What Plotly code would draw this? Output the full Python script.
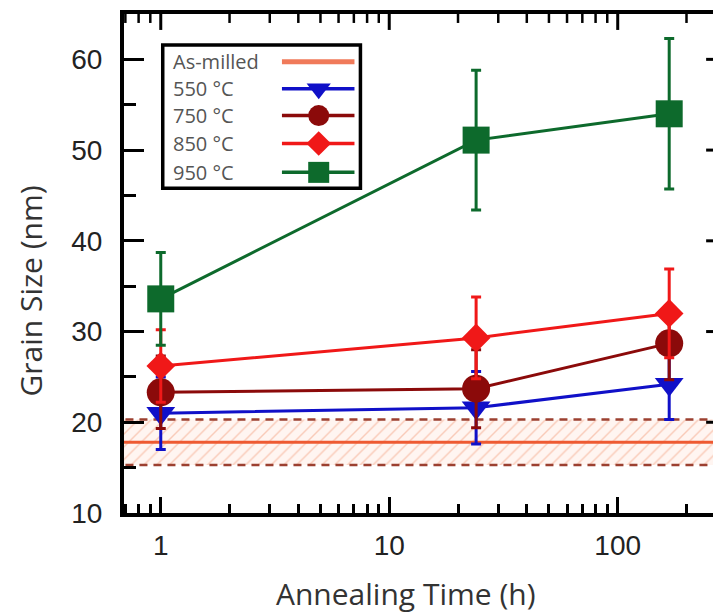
import math
import plotly.graph_objects as go

# ---------------- data ----------------
time_h = [1, 24, 168]
g550 = [21.0, 21.6, 24.2]
e550 = [4.0, 4.0, 3.9]
g750 = [23.3, 23.7, 28.7]
e750 = [4.0, 4.3, 4.0]
g850 = [26.2, 29.3, 32.0]
e850 = [4.0, 4.5, 4.9]
g950 = [33.6, 51.1, 54.0]
e950 = [5.1, 7.7, 8.3]
as_milled = 17.8
as_milled_sd = 2.5

series_names = ["550 °C", "750 °C", "850 °C", "950 °C"]
colors = ["#1010c8", "#8b0a0a", "#f01818", "#0d6a2c"]
symbols = ["triangle-down", "circle", "diamond", "square"]
msizes = [25, 28, 22, 27]
leg_msizes = [21, 21, 19, 21]

x_major = [1, 10, 100]
x_minor = [0.7, 0.8, 0.9] + list(range(2, 10)) + [10 * k for k in range(2, 10)] + [200]
y_major = [10, 20, 30, 40, 50, 60]
y_minor = [15, 25, 35, 45, 55]

# ---------------- layout (screen pixels; page body has an 8px margin) ----------------
OFF = 8
W, H = 724, 616
ax_left, ax_right, ax_top, ax_bottom = 124, 730, 12, 513   # screen px of the axes box
L = ax_left - OFF
T = ax_top - OFF
R = W - (ax_right - OFF)
B = H - (ax_bottom - OFF)
px_one = 161.0      # screen px of t = 1 h
px_dec = 230.0      # px per decade
x_lo = (ax_left - px_one) / px_dec
x_hi = (ax_right - px_one) / px_dec
y_rng = [10, 65]
MAJ_X, MIN_X, MAJ_Y, MIN_Y = 16, 9, 20, 12


def paper_x(sx):
    return (sx - ax_left) / (ax_right - ax_left)


def paper_y(sy):
    return (ax_bottom - sy) / (ax_bottom - ax_top)


def scr_x(t):          # axis value -> screen px (tick marks on the mirror sides)
    return px_one + px_dec * math.log10(t)


def scr_y(v):
    return ax_bottom - (v - y_rng[0]) * (ax_bottom - ax_top) / (y_rng[1] - y_rng[0])


fig = go.Figure()

# hatched as-milled band with dashed bounds and solid mean
xb = [10 ** (x_lo - 0.3), 10 ** (x_hi + 0.3)]
fig.add_trace(go.Scatter(
    x=xb + xb[::-1],
    y=[as_milled - as_milled_sd] * 2 + [as_milled + as_milled_sd] * 2,
    fill="toself", mode="none", hoverinfo="skip", showlegend=False,
    fillcolor="rgba(253,236,228,0.6)",
    fillpattern=dict(shape="/", fgcolor="#f4a080", bgcolor="rgba(255,242,236,0.7)",
                     size=9, solidity=0.16),
))
for yv in [as_milled - as_milled_sd, as_milled + as_milled_sd]:
    fig.add_trace(go.Scatter(x=xb, y=[yv, yv], mode="lines", showlegend=False,
                             hoverinfo="skip",
                             line=dict(color="#9c4030", width=2.5, dash="8px,6px")))
fig.add_trace(go.Scatter(x=xb, y=[as_milled, as_milled], mode="lines", showlegend=False,
                         line=dict(color="#ee5a32", width=3)))

data_vals = [g550, g750, g850, g950]
data_errs = [e550, e750, e850, e950]
for name, vals, errs, c, s, ms in zip(series_names, data_vals, data_errs, colors, symbols, msizes):
    fig.add_trace(go.Scatter(
        x=time_h, y=vals, name=name, mode="lines+markers", showlegend=False,
        line=dict(color=c, width=3),
        marker=dict(symbol=s, size=ms, color=c, opacity=1, line=dict(width=0)),
        error_y=dict(type="data", array=errs, visible=True, color=c, thickness=3, width=5),
    ))

# ---------------- tick marks on the top and right sides (overlay px axes) ----------------
def tick_trace(xs, ys, width):
    fig.add_trace(go.Scatter(x=xs, y=ys, xaxis="x2", yaxis="y3", mode="lines",
                             showlegend=False, hoverinfo="skip",
                             line=dict(color="black", width=width)))


for vals, ln, wd in [(x_major, MAJ_X, 3), (x_minor, MIN_X, 2.5)]:
    xs, ys = [], []
    for tv in vals:
        xp = scr_x(tv)
        xs += [xp, xp, None]
        ys += [ax_top, ax_top + ln, None]
    tick_trace(xs, ys, wd)
for vals, ln in [(y_major[1:], MAJ_Y), (y_minor, MIN_Y)]:
    xs, ys = [], []
    for tv in vals:
        yp = scr_y(tv)
        xs += [ax_right - ln, ax_right, None]
        ys += [yp, yp, None]
    tick_trace(xs, ys, 3)

# ---------------- custom legend (overlay axes in screen px) ----------------
leg_box = dict(x0=163, x1=362, y0=43, y1=187)
leg_rows = [60, 87, 114, 142, 171]
leg_text_x = 171
leg_line = (283, 356)
leg_mark_x = 320
leg_labels = ["As-milled"] + series_names

fig.add_shape(type="rect", xref="x2", yref="y3", x0=leg_box["x0"], x1=leg_box["x1"],
              y0=leg_box["y0"], y1=leg_box["y1"], line=dict(color="black", width=3.5),
              fillcolor="white", layer="below")
fig.add_trace(go.Scatter(x=list(leg_line), y=[leg_rows[0]] * 2, xaxis="x2", yaxis="y3",
                         mode="lines", showlegend=False, hoverinfo="skip",
                         line=dict(color="#f07a5a", width=5)))
for i, c in enumerate(colors):
    fig.add_trace(go.Scatter(x=list(leg_line), y=[leg_rows[i + 1]] * 2,
                             xaxis="x2", yaxis="y3", mode="lines", showlegend=False,
                             hoverinfo="skip", line=dict(color=c, width=3.5)))
    fig.add_trace(go.Scatter(x=[leg_mark_x], y=[leg_rows[i + 1]],
                             xaxis="x2", yaxis="y3", mode="markers", showlegend=False,
                             hoverinfo="skip",
                             marker=dict(symbol=symbols[i], size=leg_msizes[i], color=c,
                                         opacity=1, line=dict(width=0))))
for lab, yy in zip(leg_labels, leg_rows):
    fig.add_annotation(xref="x2", yref="y3", x=leg_text_x, y=yy, text=lab, showarrow=False,
                       xanchor="left", yanchor="middle",
                       font=dict(family="Open Sans", size=20, color="#555555"))

tick_font = dict(family="Liberation Sans", size=28, color="#222222")
title_font = dict(family="Open Sans", size=30, color="#333333")

# axis titles as paper annotations
fig.add_annotation(xref="paper", yref="paper", x=paper_x(408), y=paper_y(594),
                   text="Annealing Time (h)", showarrow=False, xanchor="center",
                   yanchor="middle", font=title_font)
fig.add_annotation(xref="paper", yref="paper", x=paper_x(30), y=paper_y(290),
                   text="Grain Size (nm)", showarrow=False, textangle=-90,
                   xanchor="center", yanchor="middle", font=title_font)

tick_common = dict(ticks="inside", tickwidth=3, tickcolor="black", showgrid=False,
                   zeroline=False, showline=True, linecolor="black", linewidth=4,
                   mirror=True, tickfont=tick_font)

fig.update_layout(
    width=W, height=H, margin=dict(l=L, r=R, t=T, b=B),
    paper_bgcolor="white", plot_bgcolor="white",
    xaxis=dict(type="log", range=[x_lo, x_hi], ticklen=MAJ_X, tickvals=x_major,
               ticktext=[str(v) for v in x_major], ticklabelstandoff=4,
               minor=dict(tickvals=x_minor, ticks="inside", ticklen=MIN_X, tickwidth=2.5,
                          tickcolor="black", showgrid=False),
               **tick_common),
    yaxis=dict(range=y_rng, ticklen=MAJ_Y, tickvals=y_major, ticklabelstandoff=12,
               minor=dict(tickvals=y_minor, ticks="inside", ticklen=MIN_Y, tickwidth=3,
                          tickcolor="black", showgrid=False),
               **tick_common),
    xaxis2=dict(range=[ax_left, ax_right], overlaying="x", visible=False, anchor="y3"),
    yaxis3=dict(range=[ax_bottom, ax_top], overlaying="y", visible=False, anchor="x2"),
    showlegend=False,
)

fig.write_html("out.html")
